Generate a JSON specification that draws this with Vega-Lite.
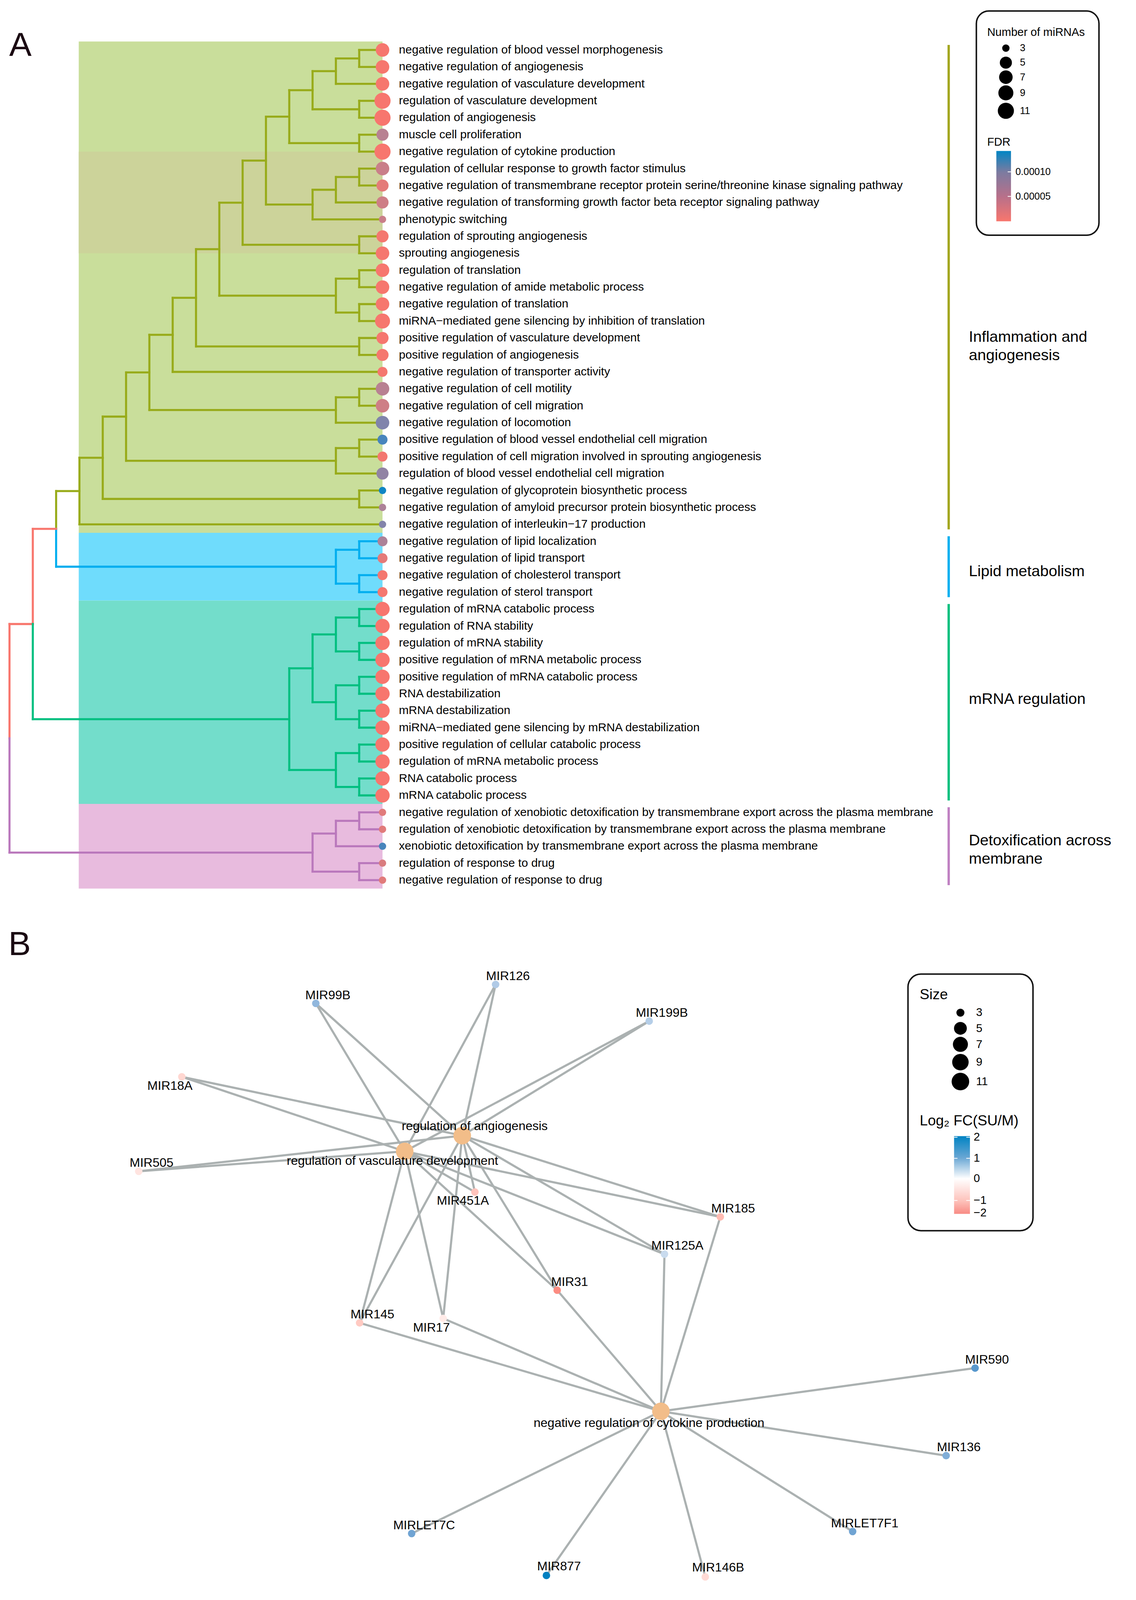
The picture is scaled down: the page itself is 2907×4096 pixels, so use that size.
{
"$schema":"https://vega.github.io/schema/vega-lite/v6.json",
"width":2907,"height":4096,"padding":0,
"autosize":{"type":"fit","contains":"padding"},
"background":"white",
"config":{"view":{"stroke":null},"text":{"font":"Liberation Sans"}},
"datasets":{
"bg":[{"h":13.03,"h2":0,"r":0.5,"r2":29.5,"g":"green"},{"h":13.03,"h2":0,"r":7,"r2":13,"g":"tan"},{"h":13.03,"h2":0,"r":29.5,"r2":33.5,"g":"blue"},{"h":13.03,"h2":0,"r":33.5,"r2":45.5,"g":"teal"},{"h":13.03,"h2":0,"r":45.5,"r2":50.5,"g":"pink"}],
"segs":[
{"h":1,"h2":1,"r":1,"r2":2,"g":"o"},{"h":1,"h2":0,"r":1,"r2":1,"g":"o"},{"h":1,"h2":0,"r":2,"r2":2,"g":"o"},
{"h":2,"h2":2,"r":1.5,"r2":3,"g":"o"},{"h":2,"h2":1,"r":1.5,"r2":1.5,"g":"o"},{"h":2,"h2":0,"r":3,"r2":3,"g":"o"},
{"h":1,"h2":1,"r":4,"r2":5,"g":"o"},{"h":1,"h2":0,"r":4,"r2":4,"g":"o"},{"h":1,"h2":0,"r":5,"r2":5,"g":"o"},
{"h":3,"h2":3,"r":2.25,"r2":4.5,"g":"o"},{"h":3,"h2":2,"r":2.25,"r2":2.25,"g":"o"},{"h":3,"h2":1,"r":4.5,"r2":4.5,"g":"o"},
{"h":1,"h2":1,"r":6,"r2":7,"g":"o"},{"h":1,"h2":0,"r":6,"r2":6,"g":"o"},{"h":1,"h2":0,"r":7,"r2":7,"g":"o"},
{"h":4,"h2":4,"r":3.375,"r2":6.5,"g":"o"},{"h":4,"h2":3,"r":3.375,"r2":3.375,"g":"o"},{"h":4,"h2":1,"r":6.5,"r2":6.5,"g":"o"},
{"h":1,"h2":1,"r":8,"r2":9,"g":"o"},{"h":1,"h2":0,"r":8,"r2":8,"g":"o"},{"h":1,"h2":0,"r":9,"r2":9,"g":"o"},
{"h":2,"h2":2,"r":8.5,"r2":10,"g":"o"},{"h":2,"h2":1,"r":8.5,"r2":8.5,"g":"o"},{"h":2,"h2":0,"r":10,"r2":10,"g":"o"},
{"h":3,"h2":3,"r":9.25,"r2":11,"g":"o"},{"h":3,"h2":2,"r":9.25,"r2":9.25,"g":"o"},{"h":3,"h2":0,"r":11,"r2":11,"g":"o"},
{"h":5,"h2":5,"r":4.9375,"r2":10.125,"g":"o"},{"h":5,"h2":4,"r":4.9375,"r2":4.9375,"g":"o"},{"h":5,"h2":3,"r":10.125,"r2":10.125,"g":"o"},
{"h":1,"h2":1,"r":12,"r2":13,"g":"o"},{"h":1,"h2":0,"r":12,"r2":12,"g":"o"},{"h":1,"h2":0,"r":13,"r2":13,"g":"o"},
{"h":6,"h2":6,"r":7.53125,"r2":12.5,"g":"o"},{"h":6,"h2":5,"r":7.53125,"r2":7.53125,"g":"o"},{"h":6,"h2":1,"r":12.5,"r2":12.5,"g":"o"},
{"h":1,"h2":1,"r":14,"r2":15,"g":"o"},{"h":1,"h2":0,"r":14,"r2":14,"g":"o"},{"h":1,"h2":0,"r":15,"r2":15,"g":"o"},
{"h":1,"h2":1,"r":16,"r2":17,"g":"o"},{"h":1,"h2":0,"r":16,"r2":16,"g":"o"},{"h":1,"h2":0,"r":17,"r2":17,"g":"o"},
{"h":2,"h2":2,"r":14.5,"r2":16.5,"g":"o"},{"h":2,"h2":1,"r":14.5,"r2":14.5,"g":"o"},{"h":2,"h2":1,"r":16.5,"r2":16.5,"g":"o"},
{"h":7,"h2":7,"r":10.0156,"r2":15.5,"g":"o"},{"h":7,"h2":6,"r":10.0156,"r2":10.0156,"g":"o"},{"h":7,"h2":2,"r":15.5,"r2":15.5,"g":"o"},
{"h":1,"h2":1,"r":18,"r2":19,"g":"o"},{"h":1,"h2":0,"r":18,"r2":18,"g":"o"},{"h":1,"h2":0,"r":19,"r2":19,"g":"o"},
{"h":8,"h2":8,"r":12.7578,"r2":18.5,"g":"o"},{"h":8,"h2":7,"r":12.7578,"r2":12.7578,"g":"o"},{"h":8,"h2":1,"r":18.5,"r2":18.5,"g":"o"},
{"h":9,"h2":9,"r":15.6289,"r2":20,"g":"o"},{"h":9,"h2":8,"r":15.6289,"r2":15.6289,"g":"o"},{"h":9,"h2":0,"r":20,"r2":20,"g":"o"},
{"h":1,"h2":1,"r":21,"r2":22,"g":"o"},{"h":1,"h2":0,"r":21,"r2":21,"g":"o"},{"h":1,"h2":0,"r":22,"r2":22,"g":"o"},
{"h":2,"h2":2,"r":21.5,"r2":23,"g":"o"},{"h":2,"h2":1,"r":21.5,"r2":21.5,"g":"o"},{"h":2,"h2":0,"r":23,"r2":23,"g":"o"},
{"h":10,"h2":10,"r":17.8145,"r2":22.25,"g":"o"},{"h":10,"h2":9,"r":17.8145,"r2":17.8145,"g":"o"},{"h":10,"h2":2,"r":22.25,"r2":22.25,"g":"o"},
{"h":1,"h2":1,"r":24,"r2":25,"g":"o"},{"h":1,"h2":0,"r":24,"r2":24,"g":"o"},{"h":1,"h2":0,"r":25,"r2":25,"g":"o"},
{"h":2,"h2":2,"r":24.5,"r2":26,"g":"o"},{"h":2,"h2":1,"r":24.5,"r2":24.5,"g":"o"},{"h":2,"h2":0,"r":26,"r2":26,"g":"o"},
{"h":11,"h2":11,"r":20.0322,"r2":25.25,"g":"o"},{"h":11,"h2":10,"r":20.0322,"r2":20.0322,"g":"o"},{"h":11,"h2":2,"r":25.25,"r2":25.25,"g":"o"},
{"h":1,"h2":1,"r":27,"r2":28,"g":"o"},{"h":1,"h2":0,"r":27,"r2":27,"g":"o"},{"h":1,"h2":0,"r":28,"r2":28,"g":"o"},
{"h":12,"h2":12,"r":22.6411,"r2":27.5,"g":"o"},{"h":12,"h2":11,"r":22.6411,"r2":22.6411,"g":"o"},{"h":12,"h2":1,"r":27.5,"r2":27.5,"g":"o"},
{"h":13,"h2":13,"r":25.0706,"r2":29,"g":"o"},{"h":13,"h2":12,"r":25.0706,"r2":25.0706,"g":"o"},{"h":13,"h2":0,"r":29,"r2":29,"g":"o"},
{"h":14,"h2":14,"r":27.0353,"r2":29.2676,"g":"o"},{"h":14,"h2":13,"r":27.0353,"r2":27.0353,"g":"o"},
{"h":1,"h2":1,"r":30,"r2":31,"g":"b"},{"h":1,"h2":0,"r":30,"r2":30,"g":"b"},{"h":1,"h2":0,"r":31,"r2":31,"g":"b"},
{"h":1,"h2":1,"r":32,"r2":33,"g":"b"},{"h":1,"h2":0,"r":32,"r2":32,"g":"b"},{"h":1,"h2":0,"r":33,"r2":33,"g":"b"},
{"h":2,"h2":2,"r":30.5,"r2":32.5,"g":"b"},{"h":2,"h2":1,"r":30.5,"r2":30.5,"g":"b"},{"h":2,"h2":1,"r":32.5,"r2":32.5,"g":"b"},
{"h":14,"h2":14,"r":29.2676,"r2":31.5,"g":"b"},{"h":14,"h2":2,"r":31.5,"r2":31.5,"g":"b"},
{"h":15,"h2":14,"r":29.2676,"r2":29.2676,"g":"r"},{"h":15,"h2":15,"r":29.2676,"r2":34.8838,"g":"r"},{"h":16,"h2":15,"r":34.8838,"r2":34.8838,"g":"r"},{"h":16,"h2":16,"r":34.8838,"r2":41.6294,"g":"r"},
{"h":1,"h2":1,"r":34,"r2":35,"g":"t"},{"h":1,"h2":0,"r":34,"r2":34,"g":"t"},{"h":1,"h2":0,"r":35,"r2":35,"g":"t"},
{"h":1,"h2":1,"r":36,"r2":37,"g":"t"},{"h":1,"h2":0,"r":36,"r2":36,"g":"t"},{"h":1,"h2":0,"r":37,"r2":37,"g":"t"},
{"h":2,"h2":2,"r":34.5,"r2":36.5,"g":"t"},{"h":2,"h2":1,"r":34.5,"r2":34.5,"g":"t"},{"h":2,"h2":1,"r":36.5,"r2":36.5,"g":"t"},
{"h":1,"h2":1,"r":38,"r2":39,"g":"t"},{"h":1,"h2":0,"r":38,"r2":38,"g":"t"},{"h":1,"h2":0,"r":39,"r2":39,"g":"t"},
{"h":1,"h2":1,"r":40,"r2":41,"g":"t"},{"h":1,"h2":0,"r":40,"r2":40,"g":"t"},{"h":1,"h2":0,"r":41,"r2":41,"g":"t"},
{"h":2,"h2":2,"r":38.5,"r2":40.5,"g":"t"},{"h":2,"h2":1,"r":38.5,"r2":38.5,"g":"t"},{"h":2,"h2":1,"r":40.5,"r2":40.5,"g":"t"},
{"h":3,"h2":3,"r":35.5,"r2":39.5,"g":"t"},{"h":3,"h2":2,"r":35.5,"r2":35.5,"g":"t"},{"h":3,"h2":2,"r":39.5,"r2":39.5,"g":"t"},
{"h":1,"h2":1,"r":42,"r2":43,"g":"t"},{"h":1,"h2":0,"r":42,"r2":42,"g":"t"},{"h":1,"h2":0,"r":43,"r2":43,"g":"t"},
{"h":1,"h2":1,"r":44,"r2":45,"g":"t"},{"h":1,"h2":0,"r":44,"r2":44,"g":"t"},{"h":1,"h2":0,"r":45,"r2":45,"g":"t"},
{"h":2,"h2":2,"r":42.5,"r2":44.5,"g":"t"},{"h":2,"h2":1,"r":42.5,"r2":42.5,"g":"t"},{"h":2,"h2":1,"r":44.5,"r2":44.5,"g":"t"},
{"h":4,"h2":4,"r":37.5,"r2":43.5,"g":"t"},{"h":4,"h2":3,"r":37.5,"r2":37.5,"g":"t"},{"h":4,"h2":2,"r":43.5,"r2":43.5,"g":"t"},
{"h":15,"h2":15,"r":34.8838,"r2":40.5,"g":"t"},{"h":15,"h2":4,"r":40.5,"r2":40.5,"g":"t"},
{"h":1,"h2":1,"r":46,"r2":47,"g":"p"},{"h":1,"h2":0,"r":46,"r2":46,"g":"p"},{"h":1,"h2":0,"r":47,"r2":47,"g":"p"},
{"h":2,"h2":2,"r":46.5,"r2":48,"g":"p"},{"h":2,"h2":1,"r":46.5,"r2":46.5,"g":"p"},{"h":2,"h2":0,"r":48,"r2":48,"g":"p"},
{"h":1,"h2":1,"r":49,"r2":50,"g":"p"},{"h":1,"h2":0,"r":49,"r2":49,"g":"p"},{"h":1,"h2":0,"r":50,"r2":50,"g":"p"},
{"h":3,"h2":3,"r":47.25,"r2":49.5,"g":"p"},{"h":3,"h2":2,"r":47.25,"r2":47.25,"g":"p"},{"h":3,"h2":1,"r":49.5,"r2":49.5,"g":"p"},
{"h":16,"h2":16,"r":41.6294,"r2":48.375,"g":"p"},{"h":16,"h2":3,"r":48.375,"r2":48.375,"g":"p"}
],
"leaves":[
{"r":1,"h":0,"term":"negative regulation of blood vessel morphogenesis","n":7,"fdr":0.000002},
{"r":2,"h":0,"term":"negative regulation of angiogenesis","n":7,"fdr":0.000002},
{"r":3,"h":0,"term":"negative regulation of vasculature development","n":7,"fdr":0.000002},
{"r":4,"h":0,"term":"regulation of vasculature development","n":11,"fdr":0.000001},
{"r":5,"h":0,"term":"regulation of angiogenesis","n":11,"fdr":0.000001},
{"r":6,"h":0,"term":"muscle cell proliferation","n":5,"fdr":0.00006},
{"r":7,"h":0,"term":"negative regulation of cytokine production","n":11,"fdr":0.000001},
{"r":8,"h":0,"term":"regulation of cellular response to growth factor stimulus","n":7,"fdr":0.000045},
{"r":9,"h":0,"term":"negative regulation of transmembrane receptor protein serine/threonine kinase signaling pathway","n":5,"fdr":0.00002},
{"r":10,"h":0,"term":"negative regulation of transforming growth factor beta receptor signaling pathway","n":5,"fdr":0.00004},
{"r":11,"h":0,"term":"phenotypic switching","n":3,"fdr":0.000045},
{"r":12,"h":0,"term":"regulation of sprouting angiogenesis","n":5,"fdr":0.000004},
{"r":13,"h":0,"term":"sprouting angiogenesis","n":7,"fdr":0.000003},
{"r":14,"h":0,"term":"regulation of translation","n":7,"fdr":0.000002},
{"r":15,"h":0,"term":"negative regulation of amide metabolic process","n":7,"fdr":0.000002},
{"r":16,"h":0,"term":"negative regulation of translation","n":7,"fdr":0.000002},
{"r":17,"h":0,"term":"miRNA−mediated gene silencing by inhibition of translation","n":9,"fdr":0.000002},
{"r":18,"h":0,"term":"positive regulation of vasculature development","n":5,"fdr":0.000003},
{"r":19,"h":0,"term":"positive regulation of angiogenesis","n":5,"fdr":0.000003},
{"r":20,"h":0,"term":"negative regulation of transporter activity","n":4,"fdr":0.000004},
{"r":21,"h":0,"term":"negative regulation of cell motility","n":7,"fdr":0.00006},
{"r":22,"h":0,"term":"negative regulation of cell migration","n":7,"fdr":0.00004},
{"r":23,"h":0,"term":"negative regulation of locomotion","n":7,"fdr":0.000102},
{"r":24,"h":0,"term":"positive regulation of blood vessel endothelial cell migration","n":4,"fdr":0.00013},
{"r":25,"h":0,"term":"positive regulation of cell migration involved in sprouting angiogenesis","n":4,"fdr":0.000005},
{"r":26,"h":0,"term":"regulation of blood vessel endothelial cell migration","n":5,"fdr":0.00009},
{"r":27,"h":0,"term":"negative regulation of glycoprotein biosynthetic process","n":3,"fdr":0.000142},
{"r":28,"h":0,"term":"negative regulation of amyloid precursor protein biosynthetic process","n":3,"fdr":0.00007},
{"r":29,"h":0,"term":"negative regulation of interleukin−17 production","n":3,"fdr":0.0001},
{"r":30,"h":0,"term":"negative regulation of lipid localization","n":4,"fdr":0.00007},
{"r":31,"h":0,"term":"negative regulation of lipid transport","n":4,"fdr":0.00002},
{"r":32,"h":0,"term":"negative regulation of cholesterol transport","n":4,"fdr":0.000004},
{"r":33,"h":0,"term":"negative regulation of sterol transport","n":4,"fdr":0.000004},
{"r":34,"h":0,"term":"regulation of mRNA catabolic process","n":8,"fdr":0.000001},
{"r":35,"h":0,"term":"regulation of RNA stability","n":8,"fdr":0.000001},
{"r":36,"h":0,"term":"regulation of mRNA stability","n":8,"fdr":0.000001},
{"r":37,"h":0,"term":"positive regulation of mRNA metabolic process","n":8,"fdr":0.000001},
{"r":38,"h":0,"term":"positive regulation of mRNA catabolic process","n":8,"fdr":0.000001},
{"r":39,"h":0,"term":"RNA destabilization","n":8,"fdr":0.000001},
{"r":40,"h":0,"term":"mRNA destabilization","n":8,"fdr":0.000001},
{"r":41,"h":0,"term":"miRNA−mediated gene silencing by mRNA destabilization","n":8,"fdr":0.000001},
{"r":42,"h":0,"term":"positive regulation of cellular catabolic process","n":8,"fdr":0.000001},
{"r":43,"h":0,"term":"regulation of mRNA metabolic process","n":8,"fdr":0.000001},
{"r":44,"h":0,"term":"RNA catabolic process","n":8,"fdr":0.000001},
{"r":45,"h":0,"term":"mRNA catabolic process","n":8,"fdr":0.000001},
{"r":46,"h":0,"term":"negative regulation of xenobiotic detoxification by transmembrane export across the plasma membrane","n":3,"fdr":0.000022},
{"r":47,"h":0,"term":"regulation of xenobiotic detoxification by transmembrane export across the plasma membrane","n":3,"fdr":0.000022},
{"r":48,"h":0,"term":"xenobiotic detoxification by transmembrane export across the plasma membrane","n":3,"fdr":0.00013},
{"r":49,"h":0,"term":"regulation of response to drug","n":3,"fdr":0.00003},
{"r":50,"h":0,"term":"negative regulation of response to drug","n":3,"fdr":0.000022}
],
"bars":[{"h":-24.285,"r":0.7,"r2":29.3,"g":"o"},{"h":-24.285,"r":29.7,"r2":33.3,"g":"b"},{"h":-24.285,"r":33.7,"r2":45.3,"g":"t"},{"h":-24.285,"r":45.7,"r2":50.3,"g":"p"}],
"clabels":[{"h":-25.15,"r":18.23,"t":"Inflammation and"},{"h":-25.15,"r":19.3,"t":"angiogenesis"},{"h":-25.15,"r":32.06,"t":"Lipid metabolism"},{"h":-25.15,"r":39.61,"t":"mRNA regulation"},{"h":-25.15,"r":47.94,"t":"Detoxification across"},{"h":-25.15,"r":49.02,"t":"membrane"}],
"legAbox":[{"x":2663.5,"x2":2998,"y":30,"y2":642}],
"legAtitle":[{"x":2693,"y":98.4,"t":"Number of miRNAs"},{"x":2693,"y":397.6,"t":"FDR"}],
"legAsize":[{"x":2744,"y":131.4,"n":3},{"x":2744,"y":171,"n":5},{"x":2744,"y":210.6,"n":7},{"x":2744,"y":253.5,"n":9},{"x":2744,"y":302.4,"n":11}],
"legAgrad":[{"x":2718,"x2":2758,"y":412,"y2":604}],
"legAticks":[{"x":2749,"x2":2758,"y":469},{"x":2749,"x2":2758,"y":536}],
"legAlab":[{"x":2770,"y":469,"t":"0.00010"},{"x":2770,"y":536,"t":"0.00005"}],
"nodes":[
{"id":"RA","type":"hub","sz":11,"x":1261,"y":3099.5,"lx":1295,"ly":3074,"label":"regulation of angiogenesis"},
{"id":"RV","type":"hub","sz":11,"x":1104,"y":3142.5,"lx":1070.5,"ly":3168.5,"label":"regulation of vasculature development"},
{"id":"NRC","type":"hub","sz":11,"x":1803,"y":3852,"lx":1770.5,"ly":3884.5,"label":"negative regulation of cytokine production"},
{"id":"MIR126","type":"mir","lfc":0.8,"x":1352,"y":2687,"lx":1385.7,"ly":2664.6,"label":"MIR126"},
{"id":"MIR99B","type":"mir","lfc":1.1,"x":861.5,"y":2738.6,"lx":894.5,"ly":2717,"label":"MIR99B"},
{"id":"MIR199B","type":"mir","lfc":0.75,"x":1771,"y":2787,"lx":1805.5,"ly":2764.5,"label":"MIR199B"},
{"id":"MIR18A","type":"mir","lfc":-0.6,"x":496,"y":2939,"lx":463.6,"ly":2964.4,"label":"MIR18A"},
{"id":"MIR505","type":"mir","lfc":-0.4,"x":378.4,"y":3197,"lx":413.4,"ly":3173.6,"label":"MIR505"},
{"id":"MIR451A","type":"mir","lfc":-0.9,"x":1295.5,"y":3253.5,"lx":1262.7,"ly":3277.5,"label":"MIR451A"},
{"id":"MIR185","type":"mir","lfc":-1.0,"x":1965,"y":3321.4,"lx":2000,"ly":3299,"label":"MIR185"},
{"id":"MIR125A","type":"mir","lfc":0.55,"x":1812.7,"y":3423,"lx":1848,"ly":3400,"label":"MIR125A"},
{"id":"MIR31","type":"mir","lfc":-1.7,"x":1520,"y":3521.5,"lx":1554,"ly":3499,"label":"MIR31"},
{"id":"MIR145","type":"mir","lfc":-0.8,"x":981,"y":3610.6,"lx":1016,"ly":3587.8,"label":"MIR145"},
{"id":"MIR17","type":"mir","lfc":-0.3,"x":1209,"y":3598.5,"lx":1177,"ly":3623.5,"label":"MIR17"},
{"id":"MIR590","type":"mir","lfc":1.6,"x":2660,"y":3734,"lx":2692.7,"ly":3711.5,"label":"MIR590"},
{"id":"MIR136","type":"mir","lfc":1.25,"x":2581,"y":3973,"lx":2615.5,"ly":3949.6,"label":"MIR136"},
{"id":"MIRLET7C","type":"mir","lfc":1.4,"x":1123,"y":4185.6,"lx":1157,"ly":4163,"label":"MIRLET7C"},
{"id":"MIR877","type":"mir","lfc":2.0,"x":1490.6,"y":4300,"lx":1525,"ly":4275,"label":"MIR877"},
{"id":"MIR146B","type":"mir","lfc":-0.55,"x":1924,"y":4304,"lx":1959,"ly":4279,"label":"MIR146B"},
{"id":"MIRLET7F1","type":"mir","lfc":1.4,"x":2326,"y":4180,"lx":2359,"ly":4157.5,"label":"MIRLET7F1"}
],
"edges":[
{"from":"RA","to":"MIR99B"},{"from":"RA","to":"MIR126"},{"from":"RA","to":"MIR199B"},{"from":"RA","to":"MIR18A"},{"from":"RA","to":"MIR505"},{"from":"RA","to":"MIR451A"},{"from":"RA","to":"MIR185"},{"from":"RA","to":"MIR125A"},{"from":"RA","to":"MIR31"},{"from":"RA","to":"MIR145"},{"from":"RA","to":"MIR17"},
{"from":"RV","to":"MIR99B"},{"from":"RV","to":"MIR126"},{"from":"RV","to":"MIR199B"},{"from":"RV","to":"MIR18A"},{"from":"RV","to":"MIR505"},{"from":"RV","to":"MIR451A"},{"from":"RV","to":"MIR185"},{"from":"RV","to":"MIR125A"},{"from":"RV","to":"MIR31"},{"from":"RV","to":"MIR145"},{"from":"RV","to":"MIR17"},
{"from":"NRC","to":"MIR145"},{"from":"NRC","to":"MIR17"},{"from":"NRC","to":"MIR31"},{"from":"NRC","to":"MIR125A"},{"from":"NRC","to":"MIR185"},{"from":"NRC","to":"MIR590"},{"from":"NRC","to":"MIR136"},{"from":"NRC","to":"MIRLET7C"},{"from":"NRC","to":"MIR877"},{"from":"NRC","to":"MIR146B"},{"from":"NRC","to":"MIRLET7F1"}
],
"legBbox":[{"x":2477,"x2":2818,"y":2658.6,"y2":3359}],
"legBtitle":[{"x":2509,"y":2727.5,"t":"Size"},{"x":2509,"y":3072,"t":"Log₂ FC(SU/M)"}],
"legBsize":[{"x":2620,"y":2764,"s":3},{"x":2620,"y":2806.7,"s":5},{"x":2620,"y":2850.5,"s":7},{"x":2620,"y":2899,"s":9},{"x":2620,"y":2952,"s":11}],
"legBgrad":[{"x":2602.7,"x2":2646,"y":3101,"y2":3313}],
"legBticks":[{"x":2602.7,"x2":2612,"y":3104},{"x":2636,"x2":2646,"y":3104},{"x":2602.7,"x2":2612,"y":3161.5},{"x":2636,"x2":2646,"y":3161.5},{"x":2602.7,"x2":2612,"y":3217},{"x":2636,"x2":2646,"y":3217},{"x":2602.7,"x2":2612,"y":3276.5},{"x":2636,"x2":2646,"y":3276.5}],
"legBlab":[{"x":2656,"y":3104,"t":"2"},{"x":2656,"y":3161.5,"t":"1"},{"x":2656,"y":3217,"t":"0"},{"x":2656,"y":3276.5,"t":"−1"},{"x":2656,"y":3310.5,"t":"−2"}],
"letters":[{"x":25,"y":152,"t":"A"},{"x":23,"y":2607,"t":"B"}]
},
"resolve":{"scale":{"x":"independent","y":"independent","color":"independent","size":"independent"}},
"layer":[
{"data":{"name":"bg"},"mark":{"type":"rect"},
 "encoding":{"x":{"field":"h","type":"quantitative","scale":{"domain":[-32.3192,16.4072],"reverse":true,"nice":false,"zero":false},"axis":null},"x2":{"field":"h2"},
 "y":{"field":"r","type":"quantitative","scale":{"domain":[-1.94983,92.4922],"reverse":true,"nice":false,"zero":false},"axis":null},"y2":{"field":"r2"},
 "color":{"field":"g","type":"nominal","scale":{"domain":["green","tan","blue","teal","pink"],"range":["#C9DE9B","#CCD39A","#6FDCFC","#73DDCB","#E8BBDE"]},"legend":null}}},
{"data":{"name":"segs"},"mark":{"type":"rule","strokeWidth":5.3,"strokeCap":"square"},
 "encoding":{"x":{"field":"h","type":"quantitative","scale":{"domain":[-32.3192,16.4072],"reverse":true,"nice":false,"zero":false},"axis":null},"x2":{"field":"h2"},
 "y":{"field":"r","type":"quantitative","scale":{"domain":[-1.94983,92.4922],"reverse":true,"nice":false,"zero":false},"axis":null},"y2":{"field":"r2"},
 "color":{"field":"g","type":"nominal","scale":{"domain":["o","b","r","t","p"],"range":["#98AB1A","#00AEEF","#F8766D","#00BF80","#BA78BC"]},"legend":null}}},
{"data":{"name":"leaves"},"mark":{"type":"point","filled":true,"shape":"circle","opacity":1,"strokeWidth":0},
 "encoding":{"x":{"field":"h","type":"quantitative","scale":{"domain":[-32.3192,16.4072],"reverse":true,"nice":false,"zero":false},"axis":null},
 "y":{"field":"r","type":"quantitative","scale":{"domain":[-1.94983,92.4922],"reverse":true,"nice":false,"zero":false},"axis":null},
 "size":{"field":"n","type":"quantitative","scale":{"type":"linear","domain":[3,5,7,9,11],"range":[352,958,1204,1479,1703],"zero":false,"nice":false},"legend":null},
 "color":{"field":"fdr","type":"quantitative","scale":{"domain":[0,0.000143],"range":["#F8766D","#0085C4"],"interpolate":"lab","zero":false,"nice":false},"legend":null}}},
{"data":{"name":"leaves"},"mark":{"type":"text","align":"left","baseline":"middle","dx":42,"fontSize":30,"font":"Liberation Sans","color":"#000000"},
 "encoding":{"x":{"field":"h","type":"quantitative","scale":{"domain":[-32.3192,16.4072],"reverse":true,"nice":false,"zero":false},"axis":null},
 "y":{"field":"r","type":"quantitative","scale":{"domain":[-1.94983,92.4922],"reverse":true,"nice":false,"zero":false},"axis":null},
 "text":{"field":"term"}}},
{"data":{"name":"bars"},"mark":{"type":"rule","strokeWidth":6},
 "encoding":{"x":{"field":"h","type":"quantitative","scale":{"domain":[-32.3192,16.4072],"reverse":true,"nice":false,"zero":false},"axis":null},
 "y":{"field":"r","type":"quantitative","scale":{"domain":[-1.94983,92.4922],"reverse":true,"nice":false,"zero":false},"axis":null},"y2":{"field":"r2"},
 "color":{"field":"g","type":"nominal","scale":{"domain":["o","b","t","p"],"range":["#A2A61F","#00AFF0","#00BF7D","#BF80C2"]},"legend":null}}},
{"data":{"name":"clabels"},"mark":{"type":"text","align":"left","baseline":"alphabetic","fontSize":39.5,"font":"Liberation Sans","color":"#000000"},
 "encoding":{"x":{"field":"h","type":"quantitative","scale":{"domain":[-32.3192,16.4072],"reverse":true,"nice":false,"zero":false},"axis":null},
 "y":{"field":"r","type":"quantitative","scale":{"domain":[-1.94983,92.4922],"reverse":true,"nice":false,"zero":false},"axis":null},
 "text":{"field":"t"}}},
{"data":{"name":"legAbox"},"mark":{"type":"rect","fill":"white","stroke":"#111111","strokeWidth":3.8,"cornerRadius":32},
 "encoding":{"x":{"field":"x","type":"quantitative","scale":{"domain":[0,3099],"nice":false,"zero":false},"axis":null},"x2":{"field":"x2"},
 "y":{"field":"y","type":"quantitative","scale":{"domain":[0,4367],"reverse":true,"nice":false,"zero":false},"axis":null},"y2":{"field":"y2"}}},
{"data":{"name":"legAtitle"},"mark":{"type":"text","align":"left","baseline":"alphabetic","fontSize":29,"font":"Liberation Sans","color":"#000000"},
 "encoding":{"x":{"field":"x","type":"quantitative","scale":{"domain":[0,3099],"nice":false,"zero":false},"axis":null},
 "y":{"field":"y","type":"quantitative","scale":{"domain":[0,4367],"reverse":true,"nice":false,"zero":false},"axis":null},"text":{"field":"t"}}},
{"data":{"name":"legAsize"},"mark":{"type":"point","filled":true,"shape":"circle","opacity":1,"color":"#000000","strokeWidth":0},
 "encoding":{"x":{"field":"x","type":"quantitative","scale":{"domain":[0,3099],"nice":false,"zero":false},"axis":null},
 "y":{"field":"y","type":"quantitative","scale":{"domain":[0,4367],"reverse":true,"nice":false,"zero":false},"axis":null},
 "size":{"field":"n","type":"quantitative","scale":{"type":"linear","domain":[3,5,7,9,11],"range":[352,958,1204,1479,1703],"zero":false,"nice":false},"legend":null}}},
{"data":{"name":"legAsize"},"mark":{"type":"text","align":"left","baseline":"middle","dx":36,"fontSize":25,"font":"Liberation Sans","color":"#000000"},
 "encoding":{"x":{"field":"x","type":"quantitative","scale":{"domain":[0,3099],"nice":false,"zero":false},"axis":null},
 "y":{"field":"y","type":"quantitative","scale":{"domain":[0,4367],"reverse":true,"nice":false,"zero":false},"axis":null},"text":{"field":"n"}}},
{"data":{"name":"legAgrad"},"mark":{"type":"rect","color":{"gradient":"linear","x1":0,"y1":0,"x2":0,"y2":1,"stops":[{"offset":0,"color":"#0085C4"},{"offset":0.3,"color":"#7B7BA0"},{"offset":0.65,"color":"#B8708A"},{"offset":1,"color":"#F8766D"}]}},
 "encoding":{"x":{"field":"x","type":"quantitative","scale":{"domain":[0,3099],"nice":false,"zero":false},"axis":null},"x2":{"field":"x2"},
 "y":{"field":"y","type":"quantitative","scale":{"domain":[0,4367],"reverse":true,"nice":false,"zero":false},"axis":null},"y2":{"field":"y2"}}},
{"data":{"name":"legAticks"},"mark":{"type":"rule","color":"white","strokeWidth":2},
 "encoding":{"x":{"field":"x","type":"quantitative","scale":{"domain":[0,3099],"nice":false,"zero":false},"axis":null},"x2":{"field":"x2"},
 "y":{"field":"y","type":"quantitative","scale":{"domain":[0,4367],"reverse":true,"nice":false,"zero":false},"axis":null}}},
{"data":{"name":"legAlab"},"mark":{"type":"text","align":"left","baseline":"middle","fontSize":25,"font":"Liberation Sans","color":"#000000"},
 "encoding":{"x":{"field":"x","type":"quantitative","scale":{"domain":[0,3099],"nice":false,"zero":false},"axis":null},
 "y":{"field":"y","type":"quantitative","scale":{"domain":[0,4367],"reverse":true,"nice":false,"zero":false},"axis":null},"text":{"field":"t"}}},
{"data":{"name":"edges"},
 "transform":[{"lookup":"from","from":{"data":{"name":"nodes"},"key":"id","fields":["x","y"]},"as":["xa","ya"]},{"lookup":"to","from":{"data":{"name":"nodes"},"key":"id","fields":["x","y"]},"as":["xb","yb"]}],
 "mark":{"type":"rule","strokeWidth":5.5,"color":"#ABB1B1"},
 "encoding":{"x":{"field":"xa","type":"quantitative","scale":{"domain":[0,3099],"nice":false,"zero":false},"axis":null},"x2":{"field":"xb"},
 "y":{"field":"ya","type":"quantitative","scale":{"domain":[0,4367],"reverse":true,"nice":false,"zero":false},"axis":null},"y2":{"field":"yb"}}},
{"data":{"name":"nodes"},"transform":[{"filter":"datum.type === 'hub'"}],
 "mark":{"type":"point","filled":true,"shape":"circle","opacity":1,"color":"#F2BD89","strokeWidth":0},
 "encoding":{"x":{"field":"x","type":"quantitative","scale":{"domain":[0,3099],"nice":false,"zero":false},"axis":null},
 "y":{"field":"y","type":"quantitative","scale":{"domain":[0,4367],"reverse":true,"nice":false,"zero":false},"axis":null},
 "size":{"field":"sz","type":"quantitative","scale":{"type":"linear","domain":[3,5,7,9,11],"range":[424,1076,1482,1781,2025],"zero":false,"nice":false},"legend":null}}},
{"data":{"name":"nodes"},"transform":[{"filter":"datum.type === 'mir'"}],
 "mark":{"type":"point","filled":true,"shape":"circle","opacity":1,"size":370,"strokeWidth":0},
 "encoding":{"x":{"field":"x","type":"quantitative","scale":{"domain":[0,3099],"nice":false,"zero":false},"axis":null},
 "y":{"field":"y","type":"quantitative","scale":{"domain":[0,4367],"reverse":true,"nice":false,"zero":false},"axis":null},
 "color":{"field":"lfc","type":"quantitative","scale":{"domain":[-2,0,2],"range":["#F8766D","#FFFFFF","#0080C0"],"interpolate":"lab","zero":false,"nice":false},"legend":null}}},
{"data":{"name":"nodes"},"mark":{"type":"text","align":"center","baseline":"middle","fontSize":32,"font":"Liberation Sans","color":"#000000"},
 "encoding":{"x":{"field":"lx","type":"quantitative","scale":{"domain":[0,3099],"nice":false,"zero":false},"axis":null},
 "y":{"field":"ly","type":"quantitative","scale":{"domain":[0,4367],"reverse":true,"nice":false,"zero":false},"axis":null},"text":{"field":"label"}}},
{"data":{"name":"legBbox"},"mark":{"type":"rect","fill":"white","stroke":"#111111","strokeWidth":3.8,"cornerRadius":33},
 "encoding":{"x":{"field":"x","type":"quantitative","scale":{"domain":[0,3099],"nice":false,"zero":false},"axis":null},"x2":{"field":"x2"},
 "y":{"field":"y","type":"quantitative","scale":{"domain":[0,4367],"reverse":true,"nice":false,"zero":false},"axis":null},"y2":{"field":"y2"}}},
{"data":{"name":"legBtitle"},"mark":{"type":"text","align":"left","baseline":"alphabetic","fontSize":37,"font":"Liberation Sans","color":"#000000"},
 "encoding":{"x":{"field":"x","type":"quantitative","scale":{"domain":[0,3099],"nice":false,"zero":false},"axis":null},
 "y":{"field":"y","type":"quantitative","scale":{"domain":[0,4367],"reverse":true,"nice":false,"zero":false},"axis":null},"text":{"field":"t"}}},
{"data":{"name":"legBsize"},"mark":{"type":"point","filled":true,"shape":"circle","opacity":1,"color":"#000000","strokeWidth":0},
 "encoding":{"x":{"field":"x","type":"quantitative","scale":{"domain":[0,3099],"nice":false,"zero":false},"axis":null},
 "y":{"field":"y","type":"quantitative","scale":{"domain":[0,4367],"reverse":true,"nice":false,"zero":false},"axis":null},
 "size":{"field":"s","type":"quantitative","scale":{"type":"linear","domain":[3,5,7,9,11],"range":[424,1076,1482,1781,2025],"zero":false,"nice":false},"legend":null}}},
{"data":{"name":"legBsize"},"mark":{"type":"text","align":"left","baseline":"middle","dx":40,"fontSize":29,"font":"Liberation Sans","color":"#000000"},
 "encoding":{"x":{"field":"x","type":"quantitative","scale":{"domain":[0,3099],"nice":false,"zero":false},"axis":null},
 "y":{"field":"y","type":"quantitative","scale":{"domain":[0,4367],"reverse":true,"nice":false,"zero":false},"axis":null},"text":{"field":"s"}}},
{"data":{"name":"legBgrad"},"mark":{"type":"rect","color":{"gradient":"linear","x1":0,"y1":0,"x2":0,"y2":1,"stops":[{"offset":0,"color":"#0083C3"},{"offset":0.28,"color":"#6AA7D4"},{"offset":0.547,"color":"#FFFFFF"},{"offset":0.83,"color":"#FDC3BC"},{"offset":1,"color":"#F88B84"}]}},
 "encoding":{"x":{"field":"x","type":"quantitative","scale":{"domain":[0,3099],"nice":false,"zero":false},"axis":null},"x2":{"field":"x2"},
 "y":{"field":"y","type":"quantitative","scale":{"domain":[0,4367],"reverse":true,"nice":false,"zero":false},"axis":null},"y2":{"field":"y2"}}},
{"data":{"name":"legBticks"},"mark":{"type":"rule","color":"white","strokeWidth":2},
 "encoding":{"x":{"field":"x","type":"quantitative","scale":{"domain":[0,3099],"nice":false,"zero":false},"axis":null},"x2":{"field":"x2"},
 "y":{"field":"y","type":"quantitative","scale":{"domain":[0,4367],"reverse":true,"nice":false,"zero":false},"axis":null}}},
{"data":{"name":"legBlab"},"mark":{"type":"text","align":"left","baseline":"middle","fontSize":29,"font":"Liberation Sans","color":"#000000"},
 "encoding":{"x":{"field":"x","type":"quantitative","scale":{"domain":[0,3099],"nice":false,"zero":false},"axis":null},
 "y":{"field":"y","type":"quantitative","scale":{"domain":[0,4367],"reverse":true,"nice":false,"zero":false},"axis":null},"text":{"field":"t"}}},
{"data":{"name":"letters"},"mark":{"type":"text","align":"left","baseline":"alphabetic","fontSize":86,"font":"Liberation Sans","color":"#1A0A12"},
 "encoding":{"x":{"field":"x","type":"quantitative","scale":{"domain":[0,3099],"nice":false,"zero":false},"axis":null},
 "y":{"field":"y","type":"quantitative","scale":{"domain":[0,4367],"reverse":true,"nice":false,"zero":false},"axis":null},"text":{"field":"t"}}}
]
}
